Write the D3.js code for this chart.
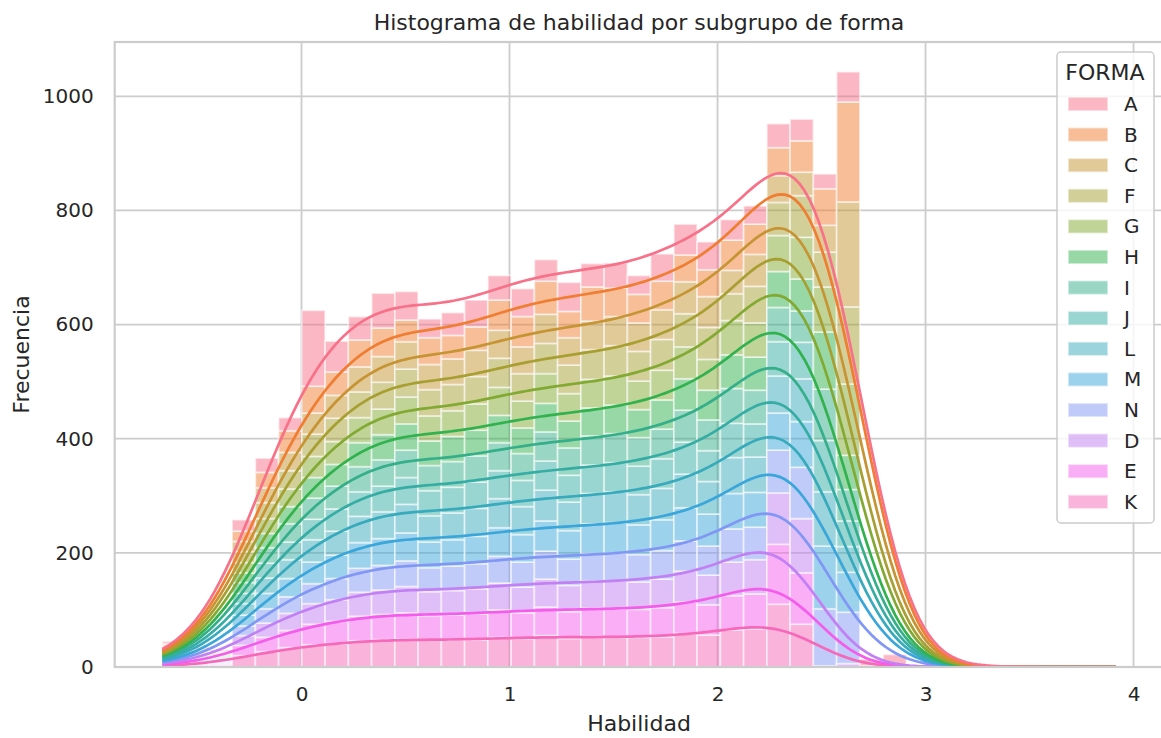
<!DOCTYPE html>
<html>
<head>
<meta charset="utf-8">
<script src="https://cdn.jsdelivr.net/npm/d3@7"></script>
<style>
  body { margin: 0; background: #ffffff; }
  text { font-family: "DejaVu Sans", sans-serif; fill: #262626; }
</style>
</head>
<body>
<svg id="chart" width="1161" height="738"></svg>
<script>
// ---- data -------------------------------------------------------------
const formas = ["A", "B", "C", "F", "G", "H", "I", "J", "L", "M", "N", "D", "E", "K"];

// histogram bins over habilidad
const binStart = -0.669;
const binWidth = 0.11178;
const binCount = 41;

// counts per bin for each forma
const countsA = [4,3,2,20,25,23,133,54,41,61,50,33,40,47,43,49,38,51,41,44,33,48,54,49,36,32,42,38,26,53,12,20,3,1,0,1,0,1,0,0,1];
const countsB = [3,2,2,18,27,38,47,41,47,50,38,47,41,41,53,53,58,46,60,50,50,50,47,47,53,53,49,55,64,175,2,0,0,0,0,0,0,0,0,0,0];
const countsC = [3,3,2,18,26,32,37,40,44,45,48,44,45,46,49,47,51,48,50,51,50,52,56,54,41,56,47,41,47,184,0,2,0,0,0,0,0,0,0,0,0];
const countsF = [3,2,2,19,28,32,39,41,45,47,49,46,46,48,51,48,53,50,52,53,52,54,58,56,47,64,58,73,61,135,0,0,0,0,0,0,0,0,0,0,0];
const countsG = [3,3,2,18,26,31,37,40,44,45,47,44,45,46,49,47,52,48,50,51,50,52,56,54,60,60,63,73,79,125,0,0,0,0,0,0,0,0,0,0,0];
const countsH = [3,2,2,17,25,30,36,38,42,44,46,43,44,45,48,45,50,47,49,50,49,51,55,52,59,58,63,56,100,60,0,0,0,0,0,0,0,0,0,0,0];
const countsI = [3,3,2,19,27,32,37,40,44,46,48,44,45,46,49,47,51,48,51,51,50,52,56,54,61,59,60,55,90,55,0,0,0,0,0,0,0,0,0,0,0];
const countsJ = [3,2,2,18,26,31,36,39,43,45,47,44,45,46,49,46,51,47,50,51,50,52,56,54,60,58,60,64,90,45,0,0,0,0,0,0,0,0,0,0,0];
const countsL = [4,3,3,20,27,33,39,42,46,47,50,46,47,49,51,49,54,50,53,54,53,55,59,57,63,62,65,75,95,45,0,0,0,0,0,0,0,0,0,0,0];
const countsM = [3,2,2,19,27,32,38,41,45,47,49,45,46,48,50,48,53,50,52,53,52,54,58,56,62,61,65,80,110,70,0,0,0,0,0,0,0,0,0,0,0];
const countsN = [3,2,2,17,25,29,35,37,42,43,45,42,43,44,47,44,49,46,48,49,48,50,53,51,58,57,75,90,100,90,0,0,0,0,0,0,0,0,0,0,0];
const countsD = [3,3,2,17,25,30,36,38,42,43,46,42,43,44,47,45,49,46,48,49,48,50,54,52,59,60,90,95,2,6,0,0,0,0,0,0,0,0,0,0,0];
const countsE = [4,2,2,18,25,30,36,39,43,44,46,43,44,45,48,45,50,47,49,50,49,51,55,53,60,61,105,90,0,0,0,0,0,0,0,0,0,0,0];
const countsK = [3,3,3,20,27,34,39,41,46,48,49,47,47,48,52,50,55,50,54,52,52,53,59,56,65,67,110,75,0,0,0,0,0,0,0,0,0,0,0];

const xTicks = [0, 1, 2, 3, 4];
const yTicks = [0, 200, 400, 600, 800, 1000];

const titleText = "Histograma de habilidad por subgrupo de forma";
const xLabel = "Habilidad";
const yLabel = "Frecuencia";
const legendTitle = "FORMA";

// ---- HUSL palette (same construction as seaborn's husl_palette) -------
const M = [[3.2406, -1.5372, -0.4986], [-0.9689, 1.8758, 0.0415], [0.0557, -0.2040, 1.0570]];
const refY = 1.0, refU = 0.19784, refV = 0.46834, kappa = 903.3, epsilon = 0.008856;

function maxChroma(L, H) {
  const hrad = H * Math.PI / 180, sinH = Math.sin(hrad), cosH = Math.cos(hrad);
  const sub1 = Math.pow(L + 16, 3) / 1560896;
  const sub2 = sub1 > epsilon ? sub1 : L / kappa;
  let result = Infinity;
  for (const [m1, m2, m3] of M) {
    const top = (0.99915 * m1 + 1.05122 * m2 + 1.14460 * m3) * sub2;
    const rbottom = 0.86330 * m3 - 0.17266 * m2;
    const lbottom = 0.12949 * m3 - 0.38848 * m1;
    const bottom = (rbottom * sinH + lbottom * cosH) * sub2;
    for (const t of [0, 1]) {
      const C = L * (top - 1.05122 * t) / (bottom + 0.17266 * sinH * t);
      if (C > 0 && C < result) result = C;
    }
  }
  return result;
}

function huslToRgb(H, S, L) {
  const C = maxChroma(L, H) / 100 * S;
  const hrad = H * Math.PI / 180;
  const U = Math.cos(hrad) * C, V = Math.sin(hrad) * C;
  const varY = L > 8 ? refY * Math.pow((L + 16) / 116, 3) : refY * L / kappa;
  const varU = U / (13 * L) + refU, varV = V / (13 * L) + refV;
  const Y = varY * refY;
  const X = -(9 * Y * varU) / ((varU - 4) * varV - varU * varV);
  const Z = (9 * Y - 15 * varV * Y - varV * X) / (3 * varV);
  const fromLinear = c => c <= 0.0031308 ? 12.92 * c : 1.055 * Math.pow(c, 1 / 2.4) - 0.055;
  const rgb = M.map(r => Math.min(1, Math.max(0, fromLinear(r[0] * X + r[1] * Y + r[2] * Z))));
  return d3.rgb(rgb[0] * 255, rgb[1] * 255, rgb[2] * 255);
}

const palette = formas.map((f, i) => {
  const h = ((i / formas.length + 0.01) % 1) * 359;
  return huslToRgb(h, 0.9 * 99, 0.65 * 99).formatHex();
});
const color = d3.scaleOrdinal().domain(formas).range(palette);

// ---- layout -----------------------------------------------------------
const plotLeft = 114.7, plotRight = 1163.3, plotTop = 42, plotBottom = 667;
const svg = d3.select("#chart");

const seriesCounts = {A: countsA, B: countsB, C: countsC, F: countsF, G: countsG, H: countsH, I: countsI,
  J: countsJ, L: countsL, M: countsM, N: countsN, D: countsD, E: countsE, K: countsK};

const edges = d3.range(binCount + 1).map(i => binStart + i * binWidth);
const centers = d3.range(binCount).map(i => binStart + (i + 0.5) * binWidth);
const dMin = edges[0], dMax = edges[binCount];
const xPad = 0.05 * (dMax - dMin);

// stacking order: last forma at the bottom, first on top
const stackOrder = formas.slice().reverse();
const totals = d3.range(binCount).map(k => d3.sum(formas, f => seriesCounts[f][k]));

const x = d3.scaleLinear().domain([dMin - xPad, dMax + xPad]).range([plotLeft, plotRight]);
const y = d3.scaleLinear().domain([0, d3.max(totals) * 1.05]).range([plotBottom, plotTop]);

svg.append("defs").append("clipPath").attr("id", "plotClip")
  .append("rect").attr("x", plotLeft).attr("y", plotTop)
  .attr("width", plotRight - plotLeft).attr("height", plotBottom - plotTop);

// grid
const grid = svg.append("g");
grid.selectAll("line.gx").data(xTicks).join("line")
  .attr("x1", d => x(d)).attr("x2", d => x(d)).attr("y1", plotTop).attr("y2", plotBottom)
  .attr("stroke", "#cccccc").attr("stroke-width", 1.8);
grid.selectAll("line.gy").data(yTicks).join("line")
  .attr("x1", plotLeft).attr("x2", plotRight).attr("y1", d => y(d)).attr("y2", d => y(d))
  .attr("stroke", "#cccccc").attr("stroke-width", 1.8);

const plot = svg.append("g").attr("clip-path", "url(#plotClip)");

// stacked bars
const segments = [];
for (let k = 0; k < binCount; k++) {
  let base = 0;
  for (const f of stackOrder) {
    const v = seriesCounts[f][k];
    if (v > 0) segments.push({f, k, y0: base, y1: base + v});
    base += v;
  }
}
plot.append("g").selectAll("rect").data(segments).join("rect")
  .attr("x", d => x(edges[d.k]))
  .attr("width", d => x(edges[d.k + 1]) - x(edges[d.k]))
  .attr("y", d => y(d.y1))
  .attr("height", d => y(d.y0) - y(d.y1))
  .attr("fill", d => color(d.f)).attr("fill-opacity", 0.5)
  .attr("stroke", "#ffffff").attr("stroke-opacity", 0.55).attr("stroke-width", 1.8);

// kernel density per forma (Gaussian, Scott bandwidth), scaled to counts and stacked
const gridN = 200;
const xs = d3.range(gridN).map(i => dMin + i * (dMax - dMin) / (gridN - 1));
function kdeCurve(counts) {
  const n = d3.sum(counts);
  const mean = d3.sum(counts, (c, i) => c * centers[i]) / n;
  const variance = d3.sum(counts, (c, i) => c * (centers[i] - mean) ** 2) / (n - 1);
  const bw = Math.sqrt(variance) * Math.pow(n, -1 / 5);
  const norm = 1 / (bw * Math.sqrt(2 * Math.PI));
  return xs.map(xv => {
    let s = 0;
    for (let i = 0; i < counts.length; i++) {
      if (!counts[i]) continue;
      const z = (xv - centers[i]) / bw;
      s += counts[i] * norm * Math.exp(-0.5 * z * z);
    }
    return s * binWidth;
  });
}
const cumulative = xs.map(() => 0);
const kdeLines = [];
for (const f of stackOrder) {
  const curve = kdeCurve(seriesCounts[f]);
  curve.forEach((v, i) => { cumulative[i] += v; });
  kdeLines.push({f, pts: xs.map((xv, i) => [xv, cumulative[i]])});
}
const line = d3.line().x(d => x(d[0])).y(d => y(d[1]));
plot.append("g").selectAll("path").data(kdeLines).join("path")
  .attr("d", d => line(d.pts))
  .attr("fill", "none").attr("stroke", d => color(d.f)).attr("stroke-width", 2.7);

// spines
svg.append("rect").attr("x", plotLeft).attr("y", plotTop)
  .attr("width", plotRight - plotLeft).attr("height", plotBottom - plotTop)
  .attr("fill", "none").attr("stroke", "#cccccc").attr("stroke-width", 2.2);

// axes (tick labels only, no tick marks)
const xAxis = d3.axisBottom(x).tickValues(xTicks).tickSize(0).tickPadding(20).tickFormat(d3.format("d"));
const gx = svg.append("g").attr("transform", `translate(0,${plotBottom})`).call(xAxis);
gx.select(".domain").remove();
gx.selectAll("text").attr("font-size", 20).attr("font-family", "DejaVu Sans").attr("fill", "#262626");

const yAxis = d3.axisLeft(y).tickValues(yTicks).tickSize(0).tickPadding(21).tickFormat(d3.format("d"));
const gy = svg.append("g").attr("transform", `translate(${plotLeft},0)`).call(yAxis);
gy.select(".domain").remove();
gy.selectAll("text").attr("font-size", 20).attr("font-family", "DejaVu Sans").attr("fill", "#262626");

// labels
svg.append("text").attr("x", (plotLeft + plotRight) / 2).attr("y", 30)
  .attr("text-anchor", "middle").attr("font-size", 22).text(titleText);
svg.append("text").attr("x", (plotLeft + plotRight) / 2).attr("y", 731)
  .attr("text-anchor", "middle").attr("font-size", 22).text(xLabel);
svg.append("text").attr("transform", `translate(29,${(plotTop + plotBottom) / 2}) rotate(-90)`)
  .attr("text-anchor", "middle").attr("font-size", 22).text(yLabel);

// legend
const legend = svg.append("g");
legend.append("rect").attr("x", 1057).attr("y", 52).attr("width", 97).attr("height", 471)
  .attr("rx", 4).attr("fill", "#ffffff").attr("fill-opacity", 0.8)
  .attr("stroke", "#cccccc").attr("stroke-width", 1.5);
legend.append("text").attr("x", 1105).attr("y", 80).attr("text-anchor", "middle")
  .attr("font-size", 22).text(legendTitle);
const entry = legend.selectAll("g.entry").data(formas).join("g")
  .attr("transform", (d, i) => `translate(0,${104 + i * 30.6})`);
entry.append("rect").attr("x", 1068).attr("y", -7).attr("width", 40).attr("height", 14)
  .attr("fill", d => color(d)).attr("fill-opacity", 0.5)
  .attr("stroke", "#ffffff").attr("stroke-opacity", 0.55).attr("stroke-width", 1.8);
entry.append("text").attr("x", 1124).attr("y", 7).attr("font-size", 20).text(d => d);
</script>
</body>
</html>
